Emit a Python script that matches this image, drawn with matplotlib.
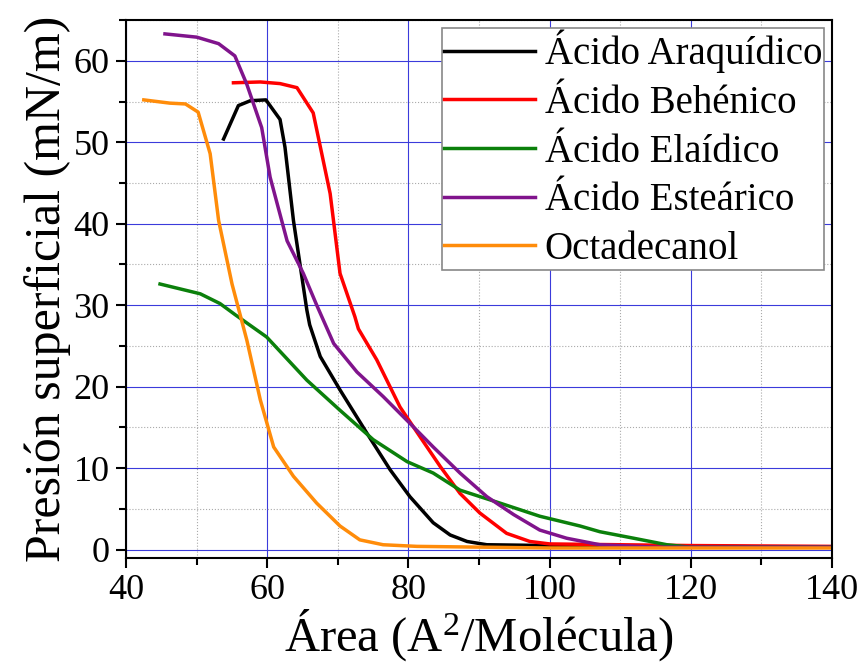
import matplotlib
matplotlib.use("Agg")
import matplotlib.pyplot as plt
from matplotlib.ticker import MultipleLocator

# isotherm data (area in A^2/molecule, pressure in mN/m)
araquidico_x = [53.8, 55.9, 57.6, 59.8, 61.8, 62.5, 63.7, 65.6, 66.0, 67.5, 70.3, 74.1, 77.4,
                80.2, 83.5, 85.9, 88.3, 91.1, 100, 120, 140]
araquidico_y = [50.4, 54.5, 55.1, 55.2, 52.8, 49.4, 40.4, 29.4, 27.6, 23.7, 19.6, 14.3, 9.8,
                6.5, 3.3, 1.8, 1.0, 0.6, 0.5, 0.4, 0.3]

behenico_x = [55.2, 59.0, 61.8, 64.2, 66.5, 68.9, 70.3, 72.4, 72.9, 75.5, 78.8, 81.6, 84.5,
              87.3, 90.1, 93.9, 97.2, 100, 120, 140]
behenico_y = [57.3, 57.4, 57.2, 56.7, 53.6, 43.7, 33.9, 28.6, 27.1, 23.3, 17.5, 13.9, 10.2,
              6.9, 4.5, 2.0, 1.0, 0.7, 0.5, 0.4]

elaidico_x = [44.8, 50.5, 53.3, 55.5, 59.9, 65.6, 70.3, 75.0, 79.8, 83.5, 87.3, 93.0, 98.6,
              104.3, 107.1, 111.9, 116.6, 119.9, 130, 140]
elaidico_y = [32.6, 31.4, 30.2, 28.8, 26.1, 20.8, 17.1, 13.5, 10.8, 9.4, 7.3, 5.7, 4.1,
              2.9, 2.2, 1.4, 0.6, 0.3, 0.3, 0.3]

estearico_x = [45.5, 50.0, 53.1, 55.4, 57.1, 59.2, 60.4, 62.8, 65.1, 67.0, 69.4, 72.7, 76.4,
               80.2, 83.5, 87.3, 91.1, 94.9, 98.6, 102.4, 107.1, 115, 140]
estearico_y = [63.3, 62.9, 62.1, 60.6, 57.1, 51.8, 45.7, 37.9, 33.9, 30.0, 25.3, 21.8, 18.8,
               15.5, 12.6, 9.4, 6.5, 4.3, 2.4, 1.4, 0.6, 0.3, 0.3]

octadecanol_x = [42.5, 46.2, 48.4, 50.2, 51.9, 53.1, 55.0, 57.1, 59.0, 60.9, 63.7, 67.0,
                 70.3, 73.1, 76.4, 81.2, 100, 140]
octadecanol_y = [55.2, 54.8, 54.7, 53.7, 48.6, 40.4, 32.6, 25.7, 18.4, 12.6, 9.0, 5.7,
                 2.9, 1.2, 0.6, 0.4, 0.2, 0.2]

labels = ["Ácido Araquídico", "Ácido Behénico", "Ácido Elaídico", "Ácido Esteárico", "Octadecanol"]
colors = ["black", "#ff0000", "#0b800b", "#80148c", "#ff8c0a"]

plt.rcParams["font.family"] = ["Liberation Serif", "DejaVu Serif"]
plt.rcParams["mathtext.fontset"] = "custom"
plt.rcParams["mathtext.rm"] = "Liberation Serif"

fig = plt.figure(figsize=(8.64, 6.68), dpi=100)
ax = fig.add_axes([0.146, 0.165, 0.817, 0.805])

series = [(araquidico_x, araquidico_y), (behenico_x, behenico_y), (elaidico_x, elaidico_y),
          (estearico_x, estearico_y), (octadecanol_x, octadecanol_y)]
for (xs, ys), lab, col in zip(series, labels, colors):
    ax.plot(xs, ys, color=col, lw=2.5, label=lab)

ax.set_xlim(40, 140)
ax.set_ylim(-1, 65)
ax.xaxis.set_major_locator(MultipleLocator(20))
ax.xaxis.set_minor_locator(MultipleLocator(10))
ax.yaxis.set_major_locator(MultipleLocator(10))
ax.yaxis.set_minor_locator(MultipleLocator(5))

# grid: blue major, dotted grey minor
ax.grid(which="major", color="#3b3bdb", lw=0.8)
ax.grid(which="minor", color="#aaaaaa", lw=0.8, ls=":")
ax.set_axisbelow(True)

ax.tick_params(which="major", direction="out", length=7, width=1.5, labelsize=26, pad=5)
ax.tick_params(which="minor", direction="out", length=5, width=1.5)
for s in ax.spines.values():
    s.set_linewidth(1.5)

ax.set_xlabel("Área (A$\\mathregular{^2}$/Molécula)", fontsize=35, labelpad=0)
ax.set_ylabel("Presión superficial (mN/m)", fontsize=36, labelpad=2)

leg = ax.legend(loc="upper right", fontsize=28, frameon=True, fancybox=False,
                edgecolor="#888888", framealpha=1, handlelength=2.35, handletextpad=0.25,
                borderpad=0.05, labelspacing=0.3, borderaxespad=0.2)
leg.get_frame().set_linewidth(1.2)

plt.savefig("out.png", dpi=100)
